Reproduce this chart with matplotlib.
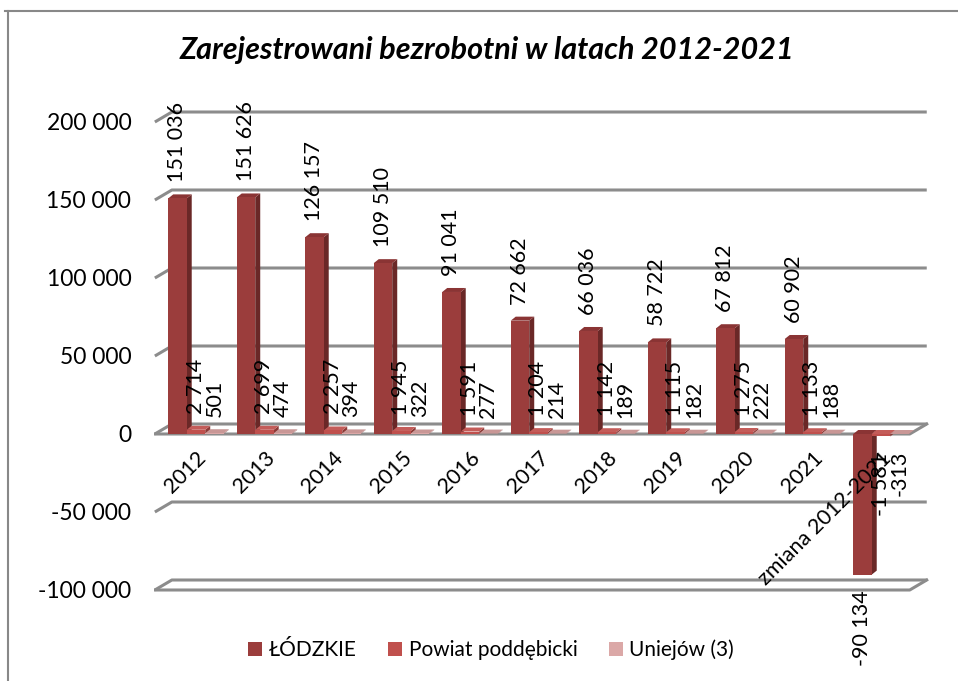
import numpy as np
import matplotlib.pyplot as plt
from matplotlib.patches import Polygon
from matplotlib.lines import Line2D

categories = ['2012', '2013', '2014', '2015', '2016', '2017', '2018', '2019',
              '2020', '2021', 'zmiana 2012-2021']
lodzkie = [151036, 151626, 126157, 109510, 91041, 72662, 66036, 58722, 67812, 60902, -90134]
powiat = [2714, 2699, 2257, 1945, 1591, 1204, 1142, 1115, 1275, 1133, -1581]
uniejow = [501, 474, 394, 322, 277, 214, 189, 182, 222, 188, -313]
series_names = ['ŁÓDZKIE', 'Powiat poddębicki', 'Uniejów (3)']
y_ticks = [-100000, -50000, 0, 50000, 100000, 150000, 200000]
y_labels = ['-100 000', '-50 000', '0', '50 000', '100 000', '150 000', '200 000']

# front / side / top colours for each series
colors = [('#9b3d3c', '#6a2827', '#8a3434'),
          ('#c0504d', '#8c3936', '#c45c59'),
          ('#dba8a7', '#b18584', '#c99796')]

plt.rcParams['font.family'] = ['Lato', 'DejaVu Sans']

W, H = 958, 681
fig = plt.figure(figsize=(W / 100, H / 100), dpi=100)

x_lim = (-0.62, 10.72)
y_lim = (-105000, 215000)
ax_w, ax_h = 776.8, 499.2
ax = fig.add_axes([153.5 / W, (H - 597.8) / H, ax_w / W, ax_h / H])
ax.set_xlim(*x_lim)
ax.set_ylim(*y_lim)

xpp = (x_lim[1] - x_lim[0]) / ax_w
ypp = (y_lim[1] - y_lim[0]) / ax_h

# 3d-ish walls / gridlines
dxf, dyf = 17 * xpp, 10 * ypp
x0, x1 = -0.6, 10.42
gcol = '#8c8c8c'
for v in y_ticks:
    ax.plot([x0, x0 + dxf, x1 + dxf], [v, v + dyf, v + dyf], color=gcol, lw=2.2, zorder=1,
            solid_capstyle='butt')
    if v in (0, -100000):
        ax.plot([x0, x1, x1 + dxf], [v, v, v + dyf], color=gcol, lw=2.2, zorder=1)

# bars
x = np.arange(len(categories))
w = 0.27
dxb, dyb = 5 * xpp, 4 * ypp
data = [lodzkie, powiat, uniejow]
handles = []
for k, vals in enumerate(data):
    front, side, top = colors[k]
    xs = x + (k - 1) * w
    for xi, v in zip(xs, vals):
        xl, xr = xi - w / 2, xi + w / 2
        ytop = max(v, 0)
        ax.add_patch(Polygon([(xr, 0), (xr + dxb, dyb), (xr + dxb, v + dyb), (xr, v)],
                             closed=True, fc=side, ec='none', zorder=2 + k))
        ax.add_patch(Polygon([(xl, ytop), (xl + dxb, ytop + dyb), (xr + dxb, ytop + dyb), (xr, ytop)],
                             closed=True, fc=top, ec='none', zorder=2 + k))
    b = ax.bar(xs, vals, width=w, color=front, zorder=2.5 + k, label=series_names[k])
    handles.append(b)
    for xi, v in zip(xs, vals):
        txt = f'{v:,}'.replace(',', ' ')
        off = 16 if v >= 0 else -16
        ax.annotate(txt, (xi, v), xytext=(0, off), textcoords='offset pixels',
                    rotation=90, ha='center', va='bottom' if v >= 0 else 'top',
                    fontsize=15.5, zorder=10)

ax.set_yticks(y_ticks)
ax.set_yticklabels(y_labels)
ax.set_xticks(x)
ax.set_xticklabels(categories)
ax.spines['bottom'].set_position(('data', 0))
for s in ax.spines.values():
    s.set_visible(False)
ax.tick_params(axis='y', length=0, pad=16, labelsize=16.5)
ax.tick_params(axis='x', length=0, pad=10, labelsize=15.5)
plt.setp(ax.get_xticklabels(), rotation=45, ha='right', va='top', rotation_mode='anchor')
ax.xaxis.set_zorder(20)
ax.patch.set_alpha(0)

fig.text(487 / W, 1 - 50 / H, 'Zarejestrowani bezrobotni w latach 2012-2021',
         ha='center', va='center', fontsize=22, fontweight='bold', fontstyle='italic')

fig.legend(handles=handles, loc='center', bbox_to_anchor=(491 / W, 1 - 650 / H), ncol=3,
           frameon=False, fontsize=15, handlelength=0.7, handleheight=0.7,
           handletextpad=0.3, columnspacing=1.5)

# outer chart frame
fig.add_artist(Line2D([5 / W, 1], [1 - 11 / H, 1 - 11 / H], color='#888888', lw=1.5))
fig.add_artist(Line2D([8 / W, 8 / W], [0, 1 - 11 / H], color='#888888', lw=1.5))

fig.savefig('out.png', dpi=100)
